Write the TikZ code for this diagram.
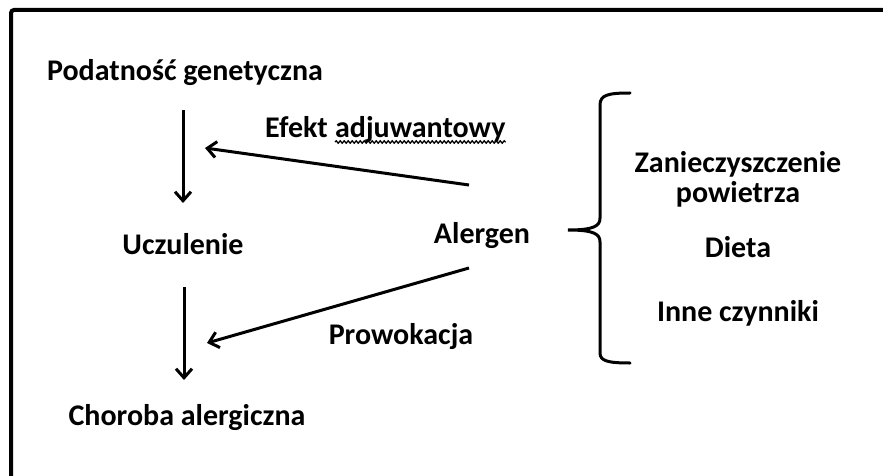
\documentclass[tikz,border=0pt]{standalone}
\usepackage{fontspec}
\setmainfont{Carlito}
\usetikzlibrary{arrows.meta,decorations.pathmorphing}
\tikzset{
  lbl/.style={font=\fontsize{30}{34}\selectfont\bfseries, inner sep=0pt, anchor=base},
  arr/.style={line width=3pt, -{Straight Barb[length=9pt,width=16pt,line width=3pt]}},
}
\begin{document}
\begin{tikzpicture}[x=1pt,y=-1pt]
\useasboundingbox (0,0) rectangle (883,476);
\fill[white] (0,0) rectangle (883,476);
\draw[line width=4pt, rounded corners=3pt] (11,10) rectangle (900,500);

\node[lbl] (pod) at (185,81) {Podatność genetyczna};
\node[lbl] (ucz) at (183,254) {Uczulenie};
\node[lbl] (chor) at (187,425) {Choroba alergiczna};
\node[lbl] (ale) at (482,243) {Alergen};
\node[lbl, anchor=base west] (efk) at (265,138) {Efekt};
\node[lbl, anchor=base west, xshift=7pt] (adj) at (efk.base east) {adjuwantowy};
\node[lbl] (pro) at (401,344) {Prowokacja};
\node[lbl] (zan) at (738,172) {Zanieczyszczenie};
\node[lbl] (pow) at (738,202) {powietrza};
\node[lbl] (die) at (738,257) {Dieta};
\node[lbl] (inn) at (738,321) {Inne czynniki};

\draw[line width=1.3pt, decorate, decoration={snake, amplitude=1.2pt, segment length=4pt}]
  ([yshift=-4pt]adj.base west) -- ([yshift=-4pt]adj.base east);

\coordinate (a1s) at (183,110);
\coordinate (a1e) at (183,203);
\coordinate (a2s) at (184,287);
\coordinate (a2e) at (184,380);
\coordinate (e1s) at (469,185);
\coordinate (e1e) at (205,148);
\coordinate (p1s) at (469,268);
\coordinate (p1e) at (207,343);

\draw[arr] (a1s) -- (a1e);
\draw[arr] (a2s) -- (a2e);
\draw[arr] (e1s) -- (e1e);
\draw[arr] (p1s) -- (p1e);

\draw[line width=3pt, line cap=round]
  (630,93) .. controls (608,93) and (600,95) .. (600,105)
  -- (600,218) .. controls (600,226) and (594,230) .. (568,230)
  .. controls (594,230) and (600,234) .. (600,242)
  -- (600,353) .. controls (600,361) and (608,363) .. (630,363);
\end{tikzpicture}
\end{document}
